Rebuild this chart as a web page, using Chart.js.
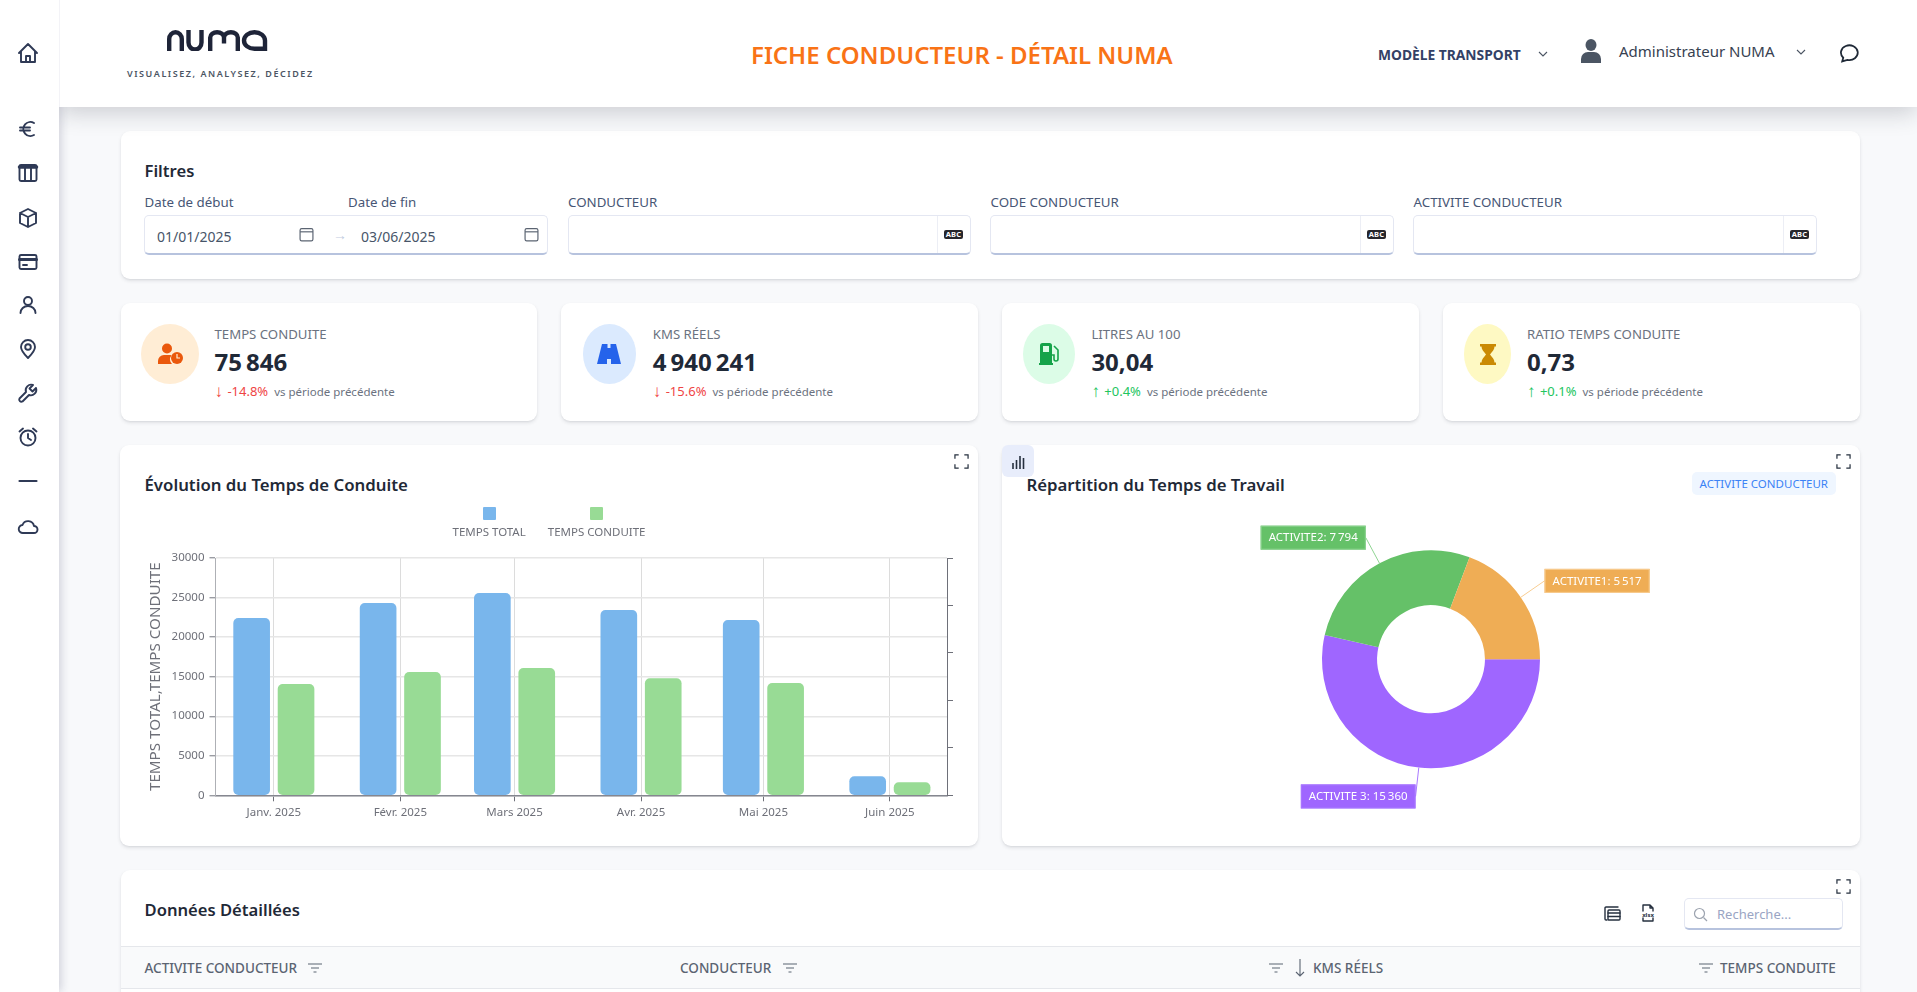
<!DOCTYPE html>
<html lang="fr">
<head>
<meta charset="utf-8">
<title>Fiche conducteur - Détail NUMA</title>
<script src="https://cdn.jsdelivr.net/npm/chart.js@4"></script>
<style>
  * { box-sizing: border-box; }
  html, body { margin: 0; height: 100%; overflow: hidden; background: #f8f9fb; font-family: "Noto Sans", sans-serif; color: #1f2937; }
  .abs { position: absolute; white-space: nowrap; }
  .mid { transform: translateY(-50%); }
  .header-ombre { position: absolute; left: 59px; top: 0; width: 1858px; height: 107px; box-shadow: 0 6px 22px rgba(30,35,50,.2); z-index: 1; }
  .sidebar { position: absolute; left: 0; top: 0; width: 59px; height: 992px; background: #fff; box-shadow: 2px 0 9px rgba(40,40,80,.2); z-index: 2; }
  .header { position: absolute; left: 59px; top: 0; width: 1858px; height: 107px; background: #fff; border-left: 1px solid #f3f3f7; z-index: 3; }
  .z4 { z-index: 4; }
  .card { position: absolute; background: #fff; border-radius: 9px; box-shadow: 0 2px 4px -1px rgba(30,35,50,.16), 0 1px 2px rgba(30,35,50,.04); }
  .side-ico { position: absolute; left: 16px; width: 24px; height: 24px; fill: none; stroke: #2f3a56; stroke-width: 1.9; stroke-linecap: round; stroke-linejoin: round; z-index: 4; }
  .titre { font-size: 16.600px; font-weight: 600; color: #1f2937; }
  .label { font-size: 13.300px; color: #475675; }
  .input { position: absolute; top: 215px; height: 40px; background: #fff; border: 1px solid #e4e7f2; border-bottom: 2px solid #b7c3de; border-radius: 5px; }
  .addon { position: absolute; right: 0; top: 0; bottom: 0; width: 33px; border-left: 1px solid #eceef5; display: flex; align-items: center; justify-content: center; }
  .abc { background: #26262c; color: #fff; font-size: 7.500px; font-weight: 700; line-height: 9px; padding: 0 2px; border-radius: 2px; letter-spacing: .2px; }
  .date { font-size: 14px; color: #475569; }
  .kpi-titre { font-size: 13.200px; color: #6b7280; }
  .kpi-val { font-size: 24px; font-weight: 700; color: #1f2937; }
  .kpi-delta { font-size: 13px; }
  .kpi-delta b { font-size: 17px; font-weight: 400; line-height: 13px; margin-right: 1px; vertical-align: -1px; }
  .kpi-delta small { font-size: 11.500px; color: #6b7280; margin-left: 6px; }
  .baisse { color: #ef4444; }
  .hausse { color: #22c55e; }
  .rond { position: absolute; top: 324px; height: 60px; border-radius: 50%; display: flex; align-items: center; justify-content: center; }
  .chart-box { position: absolute; top: 500px; width: 858px; height: 346px; }
  .legende { position: absolute; left: 120px; top: 507px; width: 858px; display: flex; justify-content: center; gap: 22px; }
  .legende div { display: flex; flex-direction: column; align-items: center; font-size: 11.500px; color: #6e7079; line-height: 16px; }
  .legende i { width: 13px; height: 13px; border-radius: 1px; margin-bottom: 4px; }
  .th { font-size: 13.500px; font-weight: 500; color: #5b6472; }
  .plein { fill: none; stroke: #26303f; stroke-width: 1.4; stroke-linecap: round; stroke-linejoin: round; }
</style>
</head>
<body>
<svg width="0" height="0" style="position:absolute">
  <symbol id="plein-ecran" viewBox="0 0 16 16"><path d="M1 5V1h4M11 1h4v4M15 11v4h-4M5 15H1v-4" fill="none" stroke="#26303f" stroke-width="1.3"/></symbol>
  <symbol id="filtre" viewBox="0 0 14 10"><path d="M0 1h14M3 5h8M5.500 9h3" fill="none" stroke="#5b6472" stroke-width="1.2"/></symbol>
  <symbol id="calendrier" viewBox="0 0 14 14"><rect x="1" y="1.500" width="12" height="11.500" rx="1.500" fill="none" stroke="#5b6472" stroke-width="1.1"/><path d="M1 4.500h12" stroke="#5b6472" stroke-width="1.1"/></symbol>
  <symbol id="chevron" viewBox="0 0 10 6"><path d="M1 1l4 4 4-4" fill="none" stroke="#4b5563" stroke-width="1.1"/></symbol>
</svg>

<div class="header-ombre"></div>
<div class="sidebar"></div>
<div class="header"></div>

<svg class="side-ico" style="top:41px" viewBox="0 0 24 24"><path d="M3 12l9-9 9 9M5 10v11h14V10M10 21v-6h4v6"/></svg>
<svg class="side-ico" style="top:117px" viewBox="0 0 24 24"><path d="M18 6a7 7 0 1 0 0 12M4 10.500h10M4 13.500h10"/></svg>
<svg class="side-ico" style="top:161px" viewBox="0 0 24 24"><rect x="3.500" y="4" width="17" height="16" rx="1.500"/><path d="M3.500 6h17" stroke-width="3.500"/><path d="M9 6v14M15 6v14"/></svg>
<svg class="side-ico" style="top:206px" viewBox="0 0 24 24"><path d="M12 3l8 4v10l-8 4-8-4V7zM4 7l8 4 8-4M12 11v10"/></svg>
<svg class="side-ico" style="top:250px" viewBox="0 0 24 24"><rect x="3.500" y="5" width="17" height="14" rx="1.500"/><path d="M3.500 9.500h17" stroke-width="3"/><path d="M7 15h4"/></svg>
<svg class="side-ico" style="top:293px" viewBox="0 0 24 24"><circle cx="12" cy="8" r="4"/><path d="M4.500 20a7.500 7 0 0 1 15 0"/></svg>
<svg class="side-ico" style="top:337px" viewBox="0 0 24 24"><path d="M12 21c-4-4-7-7.500-7-11a7 7 0 0 1 14 0c0 3.500-3 7-7 11z"/><circle cx="12" cy="10" r="2.800"/></svg>
<svg class="side-ico" style="top:381px" viewBox="0 0 24 24"><path d="M20 7l-3.500 3.500-3-3L17 4a5.500 5.500 0 0 0-7 7l-6.500 6.500a2.200 2.200 0 0 0 3 3L13 14a5.500 5.500 0 0 0 7-7z"/></svg>
<svg class="side-ico" style="top:425px" viewBox="0 0 24 24"><circle cx="12" cy="13" r="7.500"/><path d="M12 9v4l3 2M3.500 6.500L7 3.500M20.500 6.500L17 3.500"/></svg>
<svg class="side-ico" style="top:469px" viewBox="0 0 24 24"><path d="M3.500 12h17" stroke-width="2.200"/></svg>
<svg class="side-ico" style="top:514px" viewBox="0 0 24 24"><path d="M7 19a4 4 0 0 1-.5-8 6 6 0 0 1 11.500 1 3.500 3.500 0 0 1 0 7z"/></svg>

<svg class="abs z4" style="left:167px;top:29.500px" width="103" height="21.500" viewBox="0 0 103 21.500" fill="none" stroke="#1e2438" stroke-width="4.400">
  <path d="M2.200 21.500V9a6.300 6.800 0 0 1 12.600 0v12.500"/>
  <path d="M21.500 0v12.500a6.500 7 0 0 0 13 0V0"/>
  <path d="M43.200 21.500V7.500a6.900 5.300 0 0 1 13.800 0v6M57 13.500v-6a6.900 5.300 0 0 1 13.800 0v14"/>
  <path d="M98 21.500V10.500a10.500 8.300 0 1 0-10.500 8.300H98"/>
</svg>
<div class="abs z4" style="left:127px;top:67px;font-size:9px;font-weight:600;letter-spacing:1.550px;color:#4b5563">VISUALISEZ, ANALYSEZ, DÉCIDEZ</div>
<div class="abs mid z4" style="left:751px;top:54px;font-size:24px;font-weight:600;color:#f97316">FICHE CONDUCTEUR - DÉTAIL NUMA</div>
<div class="abs mid z4" style="left:1378px;top:54px;font-size:13.800px;font-weight:700;color:#334166">MODÈLE TRANSPORT</div>
<svg class="abs z4" style="left:1538px;top:51px" width="10" height="6"><use href="#chevron"/></svg>
<svg class="abs z4" style="left:1581px;top:39px" width="20" height="24" viewBox="0 0 20 24" fill="#4b5563"><ellipse cx="10" cy="6" rx="5.500" ry="6"/><path d="M0 24v-4a7 7 0 0 1 7-7h6a7 7 0 0 1 7 7v4z"/></svg>
<div class="abs mid z4" style="left:1619px;top:51px;font-size:15px;color:#374151">Administrateur NUMA</div>
<svg class="abs z4" style="left:1796px;top:49px" width="10" height="6"><use href="#chevron"/></svg>
<svg class="abs z4" style="left:1838px;top:43px" width="21" height="20" viewBox="0 0 20 19" fill="none" stroke="#1f2937" stroke-width="1.700"><path d="M4 17.500l1-3.500A8 7 0 1 1 9 16z"/></svg>

<!-- Filtres -->
<div class="card" style="left:120.500px;top:131px;width:1739.500px;height:148px"></div>
<div class="abs mid titre" style="left:144.500px;top:170px">Filtres</div>
<div class="abs mid label" style="left:144.500px;top:202px">Date de début</div>
<div class="abs mid label" style="left:348px;top:202px">Date de fin</div>
<div class="abs mid label" style="left:568px;top:202px">CONDUCTEUR</div>
<div class="abs mid label" style="left:990.500px;top:202px">CODE CONDUCTEUR</div>
<div class="abs mid label" style="left:1413.500px;top:202px">ACTIVITE CONDUCTEUR</div>
<div class="input" style="left:144px;width:403.500px"></div>
<div class="abs mid date" style="left:157px;top:236px">01/01/2025</div>
<svg class="abs" style="left:299px;top:227px" width="15" height="15"><use href="#calendrier"/></svg>
<div class="abs mid" style="left:333px;top:234px;font-size:14px;color:#c2cbe0">→</div>
<div class="abs mid date" style="left:361px;top:236px">03/06/2025</div>
<svg class="abs" style="left:524px;top:227px" width="15" height="15"><use href="#calendrier"/></svg>
<div class="input" style="left:567.500px;width:403px"><div class="addon"><span class="abc">ABC</span></div></div>
<div class="input" style="left:990px;width:403.500px"><div class="addon"><span class="abc">ABC</span></div></div>
<div class="input" style="left:1413px;width:403.500px"><div class="addon"><span class="abc">ABC</span></div></div>

<!-- Indicateurs -->
<div class="card" style="left:120.500px;top:303px;width:416.500px;height:118px"></div>
<div class="card" style="left:561px;top:303px;width:417px;height:118px"></div>
<div class="card" style="left:1002px;top:303px;width:417px;height:118px"></div>
<div class="card" style="left:1443px;top:303px;width:417px;height:118px"></div>

<div class="rond" style="left:141px;width:58px;background:#ffedd5"><svg width="26" height="22" viewBox="0 0 26 22" fill="#ea580c"><circle cx="10" cy="5.500" r="5"/><path d="M1 21v-3a6 6 0 0 1 6-6h6a6 6 0 0 1 1.500.2A7 7 0 0 0 15 21z"/><circle cx="20" cy="15" r="6"/><path d="M20 11v4h3" stroke="#ffedd5" stroke-width="1.200" fill="none"/></svg></div>
<div class="abs mid kpi-titre" style="left:214.500px;top:334px">TEMPS CONDUITE</div>
<div class="abs mid kpi-val" style="left:214.500px;top:361px">75&#8239;846</div>
<div class="abs mid kpi-delta baisse" style="left:214.500px;top:391px"><b>↓</b> -14.8%<small>vs période précédente</small></div>

<div class="rond" style="left:582.500px;width:53.500px;background:#dbeafe"><svg width="24" height="20" viewBox="0 0 24 20" fill="#2563eb"><path d="M5 0h5.500v4h3V0H19l5 20H14v-5h-4v5H0z"/></svg></div>
<div class="abs mid kpi-titre" style="left:652.800px;top:334px">KMS RÉELS</div>
<div class="abs mid kpi-val" style="left:652.800px;top:361px">4&#8239;940&#8239;241</div>
<div class="abs mid kpi-delta baisse" style="left:652.800px;top:391px"><b>↓</b> -15.6%<small>vs période précédente</small></div>

<div class="rond" style="left:1023px;width:52px;background:#dcfce7"><svg width="22" height="22" viewBox="0 0 22 22" fill="#16a34a"><path d="M1 22v-2h1V2.500A2.500 2.500 0 0 1 4.500 0h7A2.500 2.500 0 0 1 14 2.500V20h1v2zM5 3v6h6V3z" fill-rule="evenodd"/><path d="M16 3l4 4v9a2 2 0 0 1-4 0v-4h-2" fill="none" stroke="#16a34a" stroke-width="1.600"/></svg></div>
<div class="abs mid kpi-titre" style="left:1091.400px;top:334px">LITRES AU 100</div>
<div class="abs mid kpi-val" style="left:1091.400px;top:361px">30,04</div>
<div class="abs mid kpi-delta hausse" style="left:1091.400px;top:391px"><b>↑</b> +0.4%<small>vs période précédente</small></div>

<div class="rond" style="left:1464px;width:47px;background:#fef9c3"><svg width="16" height="21" viewBox="0 0 16 21" fill="#ca8a04"><path d="M0 0h16v2.500h-1.500c0 3-2.500 5.500-4.500 8 2 2.500 4.500 5 4.500 8H16V21H0v-2.500h1.500c0-3 2.500-5.500 4.500-8-2-2.500-4.500-5-4.500-8H0z"/></svg></div>
<div class="abs mid kpi-titre" style="left:1527px;top:334px">RATIO TEMPS CONDUITE</div>
<div class="abs mid kpi-val" style="left:1527px;top:361px">0,73</div>
<div class="abs mid kpi-delta hausse" style="left:1527px;top:391px"><b>↑</b> +0.1%<small>vs période précédente</small></div>

<!-- Graphiques -->
<div class="card" style="left:120px;top:445px;width:858px;height:401px"></div>
<div class="abs mid titre" style="left:144.500px;top:484px;font-size:16.800px">Évolution du Temps de Conduite</div>
<svg class="abs" style="left:954px;top:454px" width="15" height="15"><use href="#plein-ecran"/></svg>
<div class="chart-box" style="left:120px"><canvas id="barChart"></canvas></div>
<div class="legende" id="legende"></div>

<div class="card" style="left:1002px;top:445px;width:858px;height:401px"></div>
<div class="abs" style="left:1002px;top:445px;width:32px;height:32px;background:#e8edfb;border-radius:6px"></div>
<svg class="abs" style="left:1011px;top:455px" width="14" height="14" viewBox="0 0 14 14" stroke="#26303f" stroke-width="1.600"><path d="M2 14V8M5.500 14V5M9 14V1M12.500 14V3"/></svg>
<div class="abs mid titre" style="left:1026.400px;top:484px;font-size:16.800px">Répartition du Temps de Travail</div>
<div class="abs" style="left:1692px;top:472px;width:143.600px;height:23px;background:#eff6ff;border-radius:5px;font-size:11.500px;color:#3b82f6;line-height:23px;text-align:center">ACTIVITE CONDUCTEUR</div>
<svg class="abs" style="left:1836px;top:454px" width="15" height="15"><use href="#plein-ecran"/></svg>
<div class="chart-box" style="left:1002px"><canvas id="donutChart"></canvas></div>

<!-- Tableau -->
<div class="card" style="left:120.500px;top:870px;width:1739.500px;height:140px;overflow:hidden">
  <div style="position:absolute;left:0;right:0;top:76px;height:43px;background:#f9fafb;border-top:1px solid #e5e7eb;border-bottom:1px solid #e5e7eb"></div>
</div>
<div class="abs mid titre" style="left:144.500px;top:909px">Données Détaillées</div>
<svg class="abs" style="left:1836px;top:879px" width="15" height="15"><use href="#plein-ecran"/></svg>
<svg class="abs plein" style="left:1604px;top:905px" width="17" height="16" viewBox="0 0 17 16"><path d="M3 15H2a1 1 0 0 1-1-1V3a1 1 0 0 1 1-1h12"/><rect x="4" y="5" width="12" height="10" rx="1"/><path d="M4 8h12M4 11.500h12"/></svg>
<svg class="abs plein" style="left:1641px;top:904px" width="14" height="18" viewBox="0 0 14 18"><path d="M2 7V1h7l3 3v3M2 14v3h10v-3M9 1v3h3"/><text x="7" y="12.500" font-size="6" text-anchor="middle" font-family="Noto Sans" fill="#26303f" stroke="none" font-weight="700">xlsx</text></svg>
<div class="input" style="left:1684px;top:898px;width:159px;height:32px"></div>
<svg class="abs" style="left:1693px;top:907px" width="15" height="15" viewBox="0 0 15 15" fill="none" stroke="#9ca3af" stroke-width="1.200"><circle cx="6.500" cy="6.500" r="5"/><path d="M10.500 10.500L14 14"/></svg>
<div class="abs mid" style="left:1717px;top:914px;font-size:13px;color:#9aa5c4">Recherche...</div>

<div class="abs mid th" style="left:144.500px;top:968px">ACTIVITE CONDUCTEUR</div>
<svg class="abs" style="left:308px;top:963px" width="14" height="10"><use href="#filtre"/></svg>
<div class="abs mid th" style="left:680px;top:968px">CONDUCTEUR</div>
<svg class="abs" style="left:783px;top:963px" width="14" height="10"><use href="#filtre"/></svg>
<svg class="abs" style="left:1269px;top:963px" width="14" height="10"><use href="#filtre"/></svg>
<svg class="abs" style="left:1295px;top:959px" width="10" height="18" viewBox="0 0 10 18" fill="none" stroke="#5b6472" stroke-width="1.100"><path d="M5 0v17M1 13l4 4 4-4"/></svg>
<div class="abs mid th" style="left:1313px;top:968px">KMS RÉELS</div>
<svg class="abs" style="left:1699px;top:963px" width="14" height="10"><use href="#filtre"/></svg>
<div class="abs mid th" style="left:1720px;top:968px">TEMPS CONDUITE</div>

<script>
const datesMois = ['2025-01-01', '2025-02-01', '2025-03-01', '2025-04-01', '2025-05-01', '2025-06-01'];
const mois = ['Janv. 2025', 'Févr. 2025', 'Mars 2025', 'Avr. 2025', 'Mai 2025', 'Juin 2025'];
const tempsTotal = [22370, 24270, 25530, 23390, 22120, 2360];
const tempsConduite = [14030, 15550, 16050, 14750, 14160, 1600];
const yTicks = [0, 5000, 10000, 15000, 20000, 25000, 30000];

const activites = ['ACTIVITE 3', 'ACTIVITE2', 'ACTIVITE1'];
const tempsActivite = [15360, 7794, 5517];

// l'axe des x est un axe de temps : les mois n'ont pas la même largeur
const DAY = 86400000;
const joursMois = datesMois.map(d => (Date.parse(d) - Date.parse(datesMois[0])) / DAY);

const GRIS = '#6e7079';
Chart.defaults.font.family = '"Noto Sans", sans-serif';
Chart.defaults.font.size = 11.5;
Chart.defaults.color = GRIS;
Chart.defaults.animation = false;

//---------------barres------------
const seriesBarres = [
  { label: 'TEMPS TOTAL', data: tempsTotal, color: '#79b6ec' },
  { label: 'TEMPS CONDUITE', data: tempsConduite, color: '#98db95' }
];

new Chart(document.getElementById('barChart'), {
  type: 'bar',
  data: {
    labels: joursMois,
    datasets: seriesBarres.map(s => ({
      label: s.label,
      data: s.data,
      backgroundColor: s.color,
      borderRadius: 5,
      borderSkipped: false,
      barThickness: 44.4,
      maxBarThickness: 36
    }))
  },
  options: {
    responsive: true,
    maintainAspectRatio: false,
    layout: { padding: { top: 58, left: 0, right: 0, bottom: 0 } },
    plugins: { legend: { display: false }, tooltip: { mode: 'index', intersect: false } },
    scales: {
      x: {
        type: 'linear',
        min: -14.3,
        max: 165,
        offset: false,
        afterBuildTicks: (scale) => { scale.ticks = joursMois.map(v => ({ value: v })); },
        afterFit: (scale) => { scale.height = 50.7; },
        grid: { offset: false, color: '#dcdcdc', tickColor: GRIS, tickLength: 6 },
        border: { color: '#858790', width: 1.5 },
        ticks: {
          autoSkip: false,
          maxRotation: 0,
          padding: 5,
          callback: (value, index) => mois[index]
        }
      },
      y: {
        min: 0,
        max: 30000,
        afterBuildTicks: (scale) => { scale.ticks = yTicks.map(v => ({ value: v })); },
        afterFit: (scale) => { scale.width = 95.5; },
        grid: { color: '#e6e6e6', lineWidth: 1.4, tickColor: '#9a9ca3', tickLength: 6 },
        border: { color: '#aeb0b5' },
        ticks: { padding: 5, callback: (value) => String(value) },
        title: {
          display: true,
          text: 'TEMPS TOTAL,TEMPS CONDUITE',
          font: { size: 15.2 },
          color: GRIS,
          padding: { top: 27, bottom: 0 }
        }
      },
      y1: {
        axis: 'y',
        position: 'right',
        min: 0,
        max: 5,
        afterFit: (scale) => { scale.width = 31; },
        grid: { drawOnChartArea: false, tickColor: GRIS, tickLength: 6 },
        border: { color: GRIS },
        ticks: { stepSize: 1, padding: 0, callback: () => '' }
      }
    }
  }
});

// légende : pavé au dessus du libellé
document.getElementById('legende').innerHTML = seriesBarres
  .map(s => `<div><i style="background:${s.color}"></i>${s.label}</div>`)
  .join('');

//---------------anneau------------
const couleursAnneau = ['#9f66ff', '#65c168', '#efad55'];
const couleursLignes = ['#a878ff', '#8fd492', '#f8cd92'];

function formatFr(v) {
  return String(v).replace(/\B(?=(\d{3})+$)/g, '\u202f');
}

// étiquettes reliées à chaque part par une ligne, posées autour de l'anneau
const etiquettesAnneau = {
  id: 'etiquettesAnneau',
  afterDatasetsDraw(chart) {
    const ctx = chart.ctx;
    chart.getDatasetMeta(0).data.forEach((arc, i) => {
      const { x, y, startAngle, endAngle, outerRadius } = arc.getProps(['x', 'y', 'startAngle', 'endAngle', 'outerRadius'], true);
      const angle = (startAngle + endAngle) / 2;
      const x1 = x + Math.cos(angle) * outerRadius;
      const y1 = y + Math.sin(angle) * outerRadius;
      const x2 = x + Math.cos(angle) * (outerRadius + 29);
      const y2 = y + Math.sin(angle) * (outerRadius + 29);

      const texte = `${activites[i]}: ${formatFr(tempsActivite[i])}`;
      ctx.save();
      ctx.font = '11.5px "Noto Sans", sans-serif';
      const largeur = ctx.measureText(texte).width + 16;
      const droite = Math.cos(angle) > 0;
      const bx = droite ? x2 : x2 - largeur;
      const by = y2 - 12;

      ctx.strokeStyle = couleursLignes[i];
      ctx.lineWidth = 1;
      ctx.beginPath();
      ctx.moveTo(x1, y1);
      ctx.lineTo(x2, y2);
      ctx.stroke();

      ctx.fillStyle = couleursAnneau[i];
      ctx.fillRect(bx, by, largeur, 24);
      ctx.strokeStyle = couleursLignes[i];
      ctx.strokeRect(bx + .5, by + .5, largeur - 1, 23);
      ctx.fillStyle = '#fff';
      ctx.textBaseline = 'middle';
      ctx.textAlign = 'center';
      ctx.fillText(texte, bx + largeur / 2, by + 12.5);
      ctx.restore();
    });
  }
};

new Chart(document.getElementById('donutChart'), {
  type: 'doughnut',
  data: {
    labels: activites,
    datasets: [{ data: tempsActivite, backgroundColor: couleursAnneau, borderWidth: 0 }]
  },
  options: {
    responsive: true,
    maintainAspectRatio: false,
    rotation: 90,
    cutout: '49.500%',
    layout: { padding: { top: 50.3, bottom: 77.7 } },
    plugins: { legend: { display: false } }
  },
  plugins: [etiquettesAnneau]
});
</script>
</body>
</html>
